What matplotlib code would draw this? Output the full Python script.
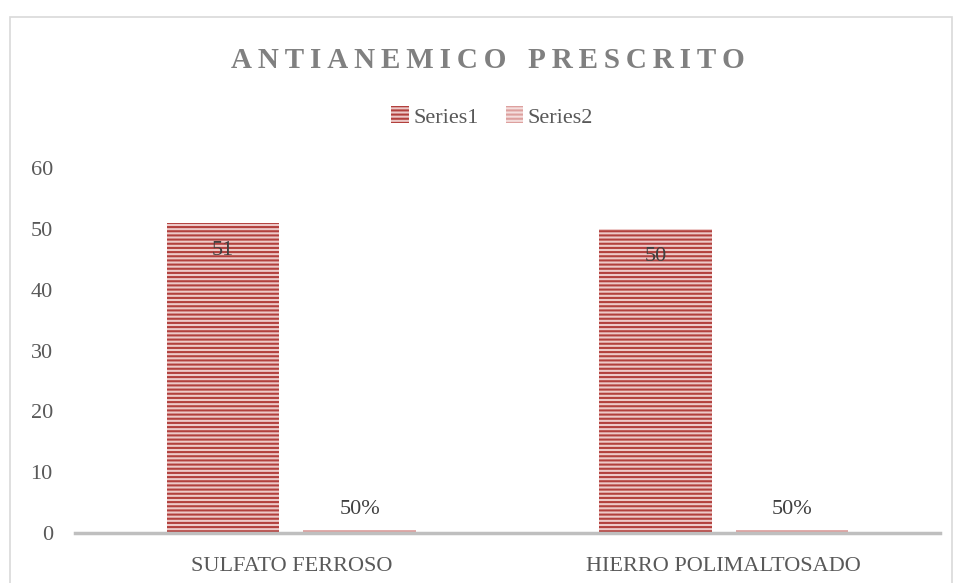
import matplotlib.pyplot as plt
import numpy as np
from matplotlib.patches import Rectangle, Patch

# data
categories = ['SULFATO FERROSO', 'HIERRO POLIMALTOSADO']
series1 = [51, 50]
series2 = [0.5, 0.5]
series2_labels = ['50%', '50%']
yticks = [0, 10, 20, 30, 40, 50, 60]

plt.rcParams['font.family'] = ['Liberation Serif', 'DejaVu Serif']
plt.rcParams['hatch.linewidth'] = 1.5

W, H = 954, 583
fig = plt.figure(figsize=(W / 100, H / 100), dpi=100)

# chart area border
fig.patches.append(Rectangle((10 / W, -0.01), 942 / W, 1 - 17 / H + 0.01,
                             transform=fig.transFigure, fill=False,
                             edgecolor='#D9D9D9', linewidth=1.2))

ax = fig.add_axes([75 / W, 50 / H, 865 / W, 365 / H])

text_col = '#595959'
s1_face, s1_hatch = '#EDC9C8', '#B2403D'
s2_face, s2_hatch = '#F4DEDD', '#DDA09E'

x = np.arange(len(categories))
bw = 0.26
off = 0.158

b1 = ax.bar(x - off, series1, bw, color=s1_face, edgecolor=s1_hatch,
            hatch='----', linewidth=0, zorder=2)
b2 = ax.bar(x + off, series2, bw, color=s2_face, edgecolor=s2_hatch,
            hatch='----', linewidth=0, zorder=2)

for rect, v in zip(b1, series1):
    ax.annotate(str(v), (rect.get_x() + rect.get_width() / 2, v),
                xytext=(0, -20), textcoords='offset points',
                ha='center', va='center', fontsize=16, color='#404040')
for rect, lab in zip(b2, series2_labels):
    ax.annotate(lab, (rect.get_x() + rect.get_width() / 2, rect.get_height()),
                xytext=(0, 15), textcoords='offset points',
                ha='center', va='center', fontsize=16, color='#404040')

ax.set_xlim(-0.5, len(categories) - 0.5)
ax.set_ylim(0, 60)
ax.set_yticks(yticks)
ax.set_xticks(x)
ax.set_xticklabels(categories)
ax.tick_params(axis='both', length=0, labelsize=16, colors=text_col)
ax.tick_params(axis='y', pad=16)
ax.tick_params(axis='x', pad=17)

for side in ['top', 'right', 'left']:
    ax.spines[side].set_visible(False)
ax.spines['bottom'].set_color('#BFBFBF')
ax.spines['bottom'].set_linewidth(2.5)
ax.spines['bottom'].set_zorder(3)

title = '\u2009\u2009\u2009'.join('\u2009'.join(w) for w in 'ANTIANEMICO PRESCRITO'.split())
title = title.replace('\u2009\u2009\u2009', '   ')
fig.text(0.511, 1 - 61 / H, title, ha='center', va='center', fontsize=21,
         fontweight='bold', color='#808080')

handles = [Patch(facecolor=s1_face, edgecolor=s1_hatch, hatch='----', linewidth=0),
           Patch(facecolor=s2_face, edgecolor=s2_hatch, hatch='----', linewidth=0)]
fig.legend(handles, ['Series1', 'Series2'], loc='center',
           bbox_to_anchor=(0.516, 1 - 117 / H), ncol=2, frameon=False,
           fontsize=16, labelcolor=text_col, handlelength=0.8,
           handleheight=0.8, handletextpad=0.2, columnspacing=1.2)

fig.savefig('out.png', dpi=100)
